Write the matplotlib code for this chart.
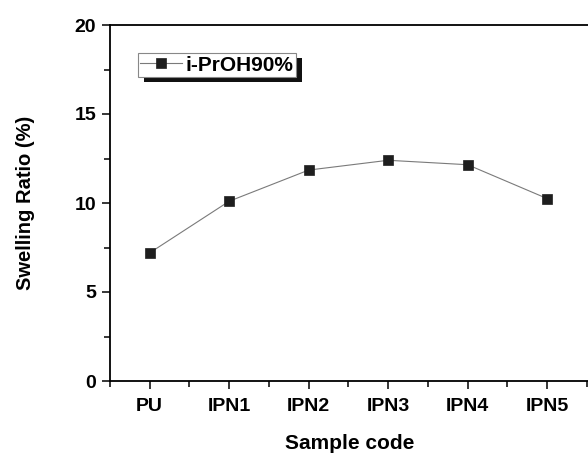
import matplotlib
matplotlib.use("Agg")
import matplotlib.pyplot as plt
from matplotlib.patches import Rectangle
from matplotlib.ticker import MultipleLocator

plt.rcParams["font.family"] = ["Liberation Sans", "DejaVu Sans"]
plt.rcParams["font.weight"] = "bold"

# ── data ──────────────────────────────────────────────────────────────────────
SAMPLES  = ["PU", "IPN1", "IPN2", "IPN3", "IPN4", "IPN5"]
SWELLING = [7.2, 10.1, 11.85, 12.4, 12.15, 10.25]
SERIES   = "i-PrOH90%"

fig = plt.figure(figsize=(5.88, 4.55), dpi=100)
ax = fig.add_axes([110 / 588, 74 / 455, 480 / 588, 356 / 455])

x = list(range(len(SAMPLES)))
ax.plot(x, SWELLING, "-", color="#7a7a7a", lw=0.8,
        marker="s", ms=7.2, mfc="#1e1e1e", mec="#1e1e1e", mew=0.5,
        label=SERIES)

ax.set_xlim(-0.5, 5.54)
ax.set_ylim(0, 20)
ax.set_xticks(x)
ax.set_xticklabels(SAMPLES, fontsize=14, fontweight="bold")
ax.set_xticks([i + 0.5 for i in range(-1, 6)], minor=True)
ax.yaxis.set_major_locator(MultipleLocator(5))
ax.yaxis.set_minor_locator(MultipleLocator(2.5))
for lab in ax.get_yticklabels():
    lab.set_fontsize(14)
    lab.set_fontweight("bold")

ax.tick_params(which="major", direction="out", length=6, width=1.1)
ax.tick_params(which="minor", direction="out", length=4, width=1.1)
ax.tick_params(axis="x", which="major", pad=6)
ax.tick_params(axis="y", which="major", pad=4)
ax.spines["right"].set_visible(False)
for s in ("left", "bottom", "top"):
    ax.spines[s].set_linewidth(1.3)

ax.set_xlabel("Sample code", fontsize=15, fontweight="bold", labelpad=14)
ax.set_ylabel("Swelling Ratio (%)", fontsize=14.5, fontweight="bold", labelpad=28)

leg = ax.legend(loc="upper left", bbox_to_anchor=(0.058, 0.92),
                prop={"weight": "bold", "size": 15}, fancybox=False,
                edgecolor="#888888", framealpha=1, borderpad=0.1,
                handlelength=2.0, handletextpad=0.2, borderaxespad=0)
leg.get_frame().set_linewidth(0.8)

# solid black drop shadow behind the legend box
fig.canvas.draw()
bb = leg.get_window_extent().transformed(fig.transFigure.inverted())
dx, dy = 6 / 588, 5 / 455
fig.add_artist(Rectangle((bb.x0 + dx, bb.y0 - dy), bb.width, bb.height,
                         transform=fig.transFigure, facecolor="#111111",
                         edgecolor="none", zorder=1))
ax.set_zorder(2)
ax.patch.set_alpha(0)

fig.savefig("out.png", dpi=100)
